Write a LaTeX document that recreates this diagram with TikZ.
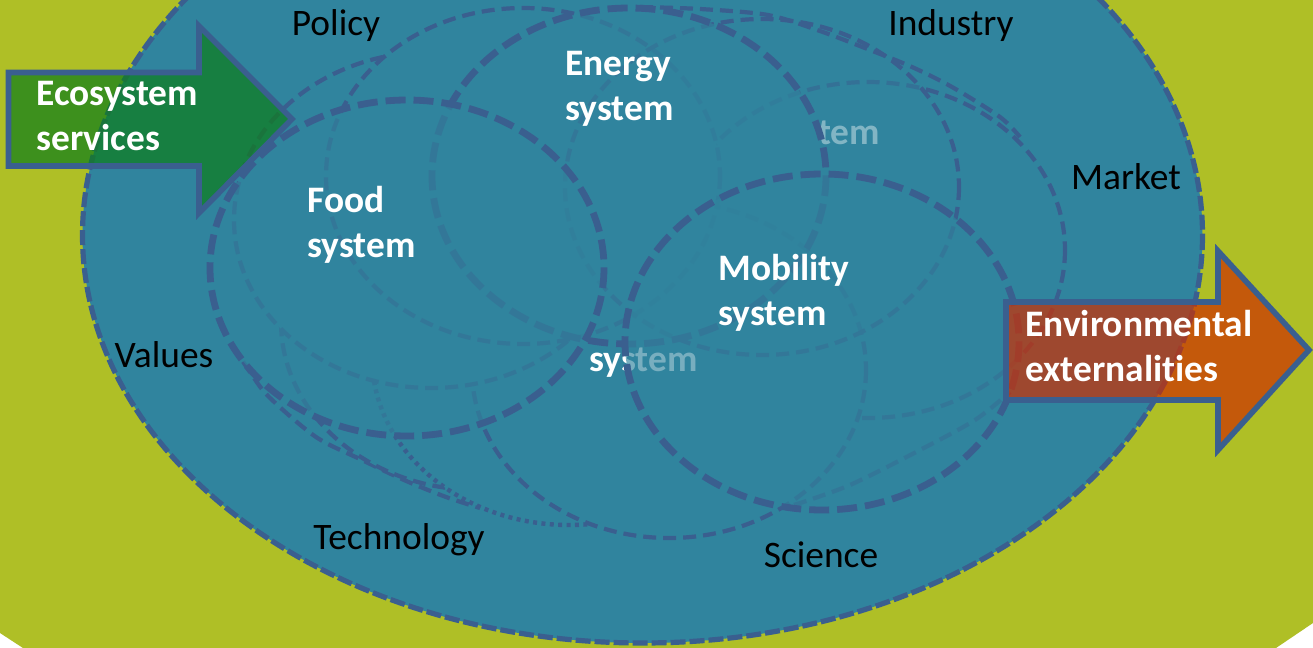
\documentclass[tikz,border=0pt]{standalone}
\usepackage{fontspec}
\setmainfont{Carlito}[Ligatures=CommonOff]
\definecolor{bgc}{RGB}{175,191,38}
\definecolor{tealc}{RGB}{48,132,158}
\definecolor{dashc}{RGB}{58,95,143}
\definecolor{greenc}{RGB}{13,125,26}
\definecolor{orangec}{RGB}{206,47,0}
\tikzset{
  thinline/.style={draw=dashc,line width=2.1pt,dash pattern=on 6.5pt off 3.5pt},
  thinopaque/.style={thinline,fill=tealc},
  thinglass/.style={thinline,fill=tealc,fill opacity=.5,draw opacity=1},
  thickell/.style={fill=tealc,fill opacity=.65,draw=dashc,draw opacity=1,line width=3.4pt,dash pattern=on 10pt off 4pt},
  dotell/.style={fill=tealc,draw=dashc,line width=2.2pt,dash pattern=on 2pt off 2.2pt},
  outer/.style={fill=tealc,draw=dashc,line width=2.6pt,dash pattern=on 7.5pt off 2pt},
  arrowshape/.style={draw=dashc,line width=2.8pt,fill opacity=.7,draw opacity=1,miter limit=10},
  lab/.style={font=\fontsize{18.7}{22.5}\selectfont,text=black,inner sep=0pt},
  wlab/.style={font=\fontsize{18.7}{22.5}\selectfont\bfseries,text=white,inner sep=0pt,align=left,anchor=west},
}
\begin{document}
\begin{tikzpicture}[x=.5pt,y=-.5pt]
\useasboundingbox (0,0) rectangle (1313,648);
\clip (0,0) rectangle (1313,648);
\fill[white] (0,0) rectangle (1313,648);
\fill[bgc] (0,0) -- (1313,0) -- (1313,623) -- (1276,648) -- (23,648) -- (0,633) -- cycle;
\draw[outer] (642.5,235) ellipse [x radius=560,y radius=408];
% lowest arcs
\draw[thinline] plot[smooth] coordinates {(232,345) (250,372) (269,397) (316,437) (362,460) (404,480) (446,497) (480,508)};
\draw[thinopaque] (478,322) ellipse [x radius=197,y radius=168];
\draw[dotell] (569,357) ellipse [x radius=197,y radius=168];
\draw[thinline] (868,250) ellipse [x radius=197,y radius=168];
\draw[thinopaque] (669,370) ellipse [x radius=197,y radius=168];
\draw[thinopaque] (431,220) ellipse [x radius=197,y radius=168];
\draw[thinopaque] (523,176) ellipse [x radius=197,y radius=168];
\draw[thinglass] (762,187) ellipse [x radius=197,y radius=168];
\draw[thinline] plot[smooth] coordinates {(640,7) (700,9) (768,15) (820,31) (870,50) (912,67) (952,87) (1000,117) (1020,137)};
\draw[thinline] plot[smooth] coordinates {(794,505) (850,485) (920,450) (975,420) (1010,392)};
\node[wlab,text opacity=.4] (tem) at (818,133) {tem};
\draw[thickell] (629,176) ellipse [x radius=197,y radius=168];
\draw[thickell] (407,268) ellipse [x radius=197,y radius=168];
\node[wlab] (sys) at (589,363) {system};
\draw[thickell] (822,342) ellipse [x radius=197,y radius=168];
% arrows
\draw[arrowshape,fill=greenc] (8.5,72.5) -- (199,72.5) -- (199,26) -- (292,119) -- (199,213) -- (199,166) -- (8.5,166) -- cycle;
\draw[arrowshape,fill=orangec] (1006,302) -- (1218,302) -- (1218,251) -- (1309,350) -- (1218,450) -- (1218,400) -- (1006,400) -- cycle;
% labels
\node[wlab] (eco) at (36,116) {Ecosystem\\services};
\node[wlab] (food) at (307,225) {Food\\system};
\node[wlab] (energy) at (565,89) {Energy\\system};
\node[wlab] (mob) at (718,293) {Mobility\\system};
\node[wlab] (env) at (1025,346) {Environmental\\externalities};
\node[lab] (policy) at (336,26) {Policy};
\node[lab] (industry) at (951,26) {Industry};
\node[lab] (market) at (1126,177) {Market};
\node[lab] (values) at (164,355) {Values};
\node[lab] (tech) at (399,540) {Technology};
\node[lab] (science) at (821,555) {Science};
\end{tikzpicture}
\end{document}
